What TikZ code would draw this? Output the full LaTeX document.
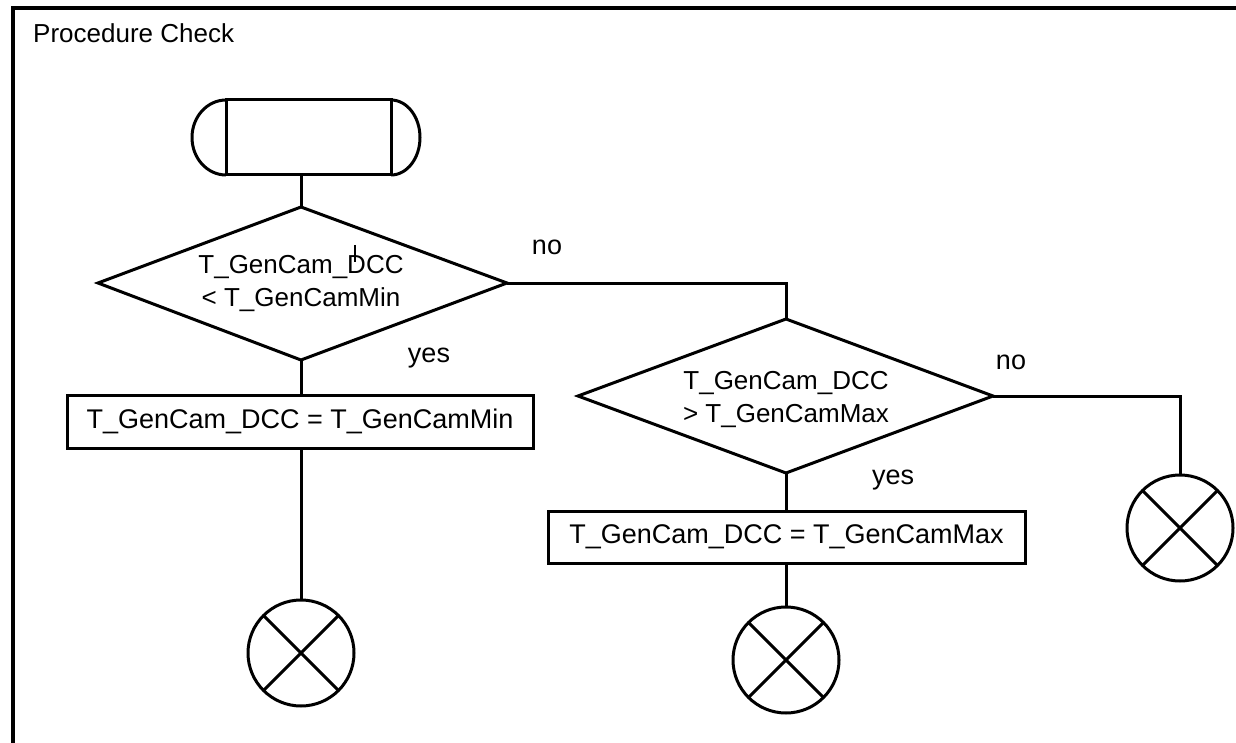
\documentclass[tikz,border=0pt]{standalone}
\usepackage{fontspec}
\setmainfont{Liberation Sans}
\begin{document}
\begin{tikzpicture}[x=1pt,y=-1pt,
  ln/.style={line width=3pt, line join=miter},
  dtext/.style={inner sep=0pt, outer sep=0pt, align=center, font=\fontsize{26}{33}\selectfont},
  act/.style={rectangle, draw, ln, inner sep=0pt, outer sep=0pt, font=\fontsize{27}{30}\selectfont},
  endc/.style={circle, draw, ln, minimum size=106pt, inner sep=0pt, outer sep=0pt},
  lbl/.style={font=\fontsize{27}{30}\selectfont}]
\useasboundingbox (0,0) rectangle (1236,743);
\clip (0,0) rectangle (1236,743);
\draw[line width=3.5pt] (13,8) rectangle (1300,800);
\node[anchor=base west, inner sep=0pt, font=\fontsize{26}{30}\selectfont] (title) at (33,43) {Procedure Check};
% start terminal
\node[act, minimum width=165pt, minimum height=75pt] (start) at (308.5,137.5) {};
\draw[ln] (start.north west) arc[start angle=90, end angle=270, x radius=34pt, y radius=37.5pt];
\draw[ln] (start.north east) arc[start angle=90, end angle=-90, x radius=29pt, y radius=37.5pt];
% decision 1
\node[dtext] (d1) at (301,284) {T\_GenCam\_DCC\\< T\_GenCamMin};
\coordinate (d1n) at (301,207);
\coordinate (d1e) at (507,283);
\coordinate (d1s) at (301,360);
\coordinate (d1w) at (98,283);
\draw[ln] (d1n) -- (d1e) -- (d1s) -- (d1w) -- cycle;
% decision 2
\node[dtext] (d2) at (786,400) {T\_GenCam\_DCC\\> T\_GenCamMax};
\coordinate (d2n) at (786,319);
\coordinate (d2e) at (993,396);
\coordinate (d2s) at (786,473);
\coordinate (d2w) at (578,396);
\draw[ln] (d2n) -- (d2e) -- (d2s) -- (d2w) -- cycle;
% actions
\node[act, minimum width=466pt, minimum height=53pt] (b1) at (300,421.5) {T\_GenCam\_DCC = T\_GenCamMin};
\node[act, minimum width=477pt, minimum height=52pt] (b2) at (786.5,537) {T\_GenCam\_DCC = T\_GenCamMax};
% ends
\node[endc] (c1) at (301,653) {};
\node[endc] (c2) at (786,660) {};
\node[endc] (c3) at (1180,528) {};
\foreach \c in {c1,c2,c3}{
  \draw[ln] (\c.north west) -- (\c.south east);
  \draw[ln] (\c.north east) -- (\c.south west);
}
% connectors
\draw[ln] (start.south -| d1n) -- (d1n);
\draw[ln] (d1s) -- (b1.north -| d1s);
\draw[ln] (b1.south -| c1.north) -- (c1.north);
\draw[ln] (d1e) -| (d2n);
\draw[ln] (d2s) -- (b2.north -| d2s);
\draw[ln] (b2.south -| c2.north) -- (c2.north);
\draw[ln] (d2e) -| (c3.north);
% labels
\node[lbl] (no1) at (547,247) {no};
\node[lbl] (yes1) at (429,358) {yes};
\node[lbl] (no2) at (1011,362) {no};
\node[lbl] (yes2) at (893,480) {yes};
% stray cursor mark
\coordinate (cur1) at (355,245);
\coordinate (cur2) at (355,262);
\draw[line width=1.5pt] (cur1) -- (cur2);
\end{tikzpicture}
\end{document}
